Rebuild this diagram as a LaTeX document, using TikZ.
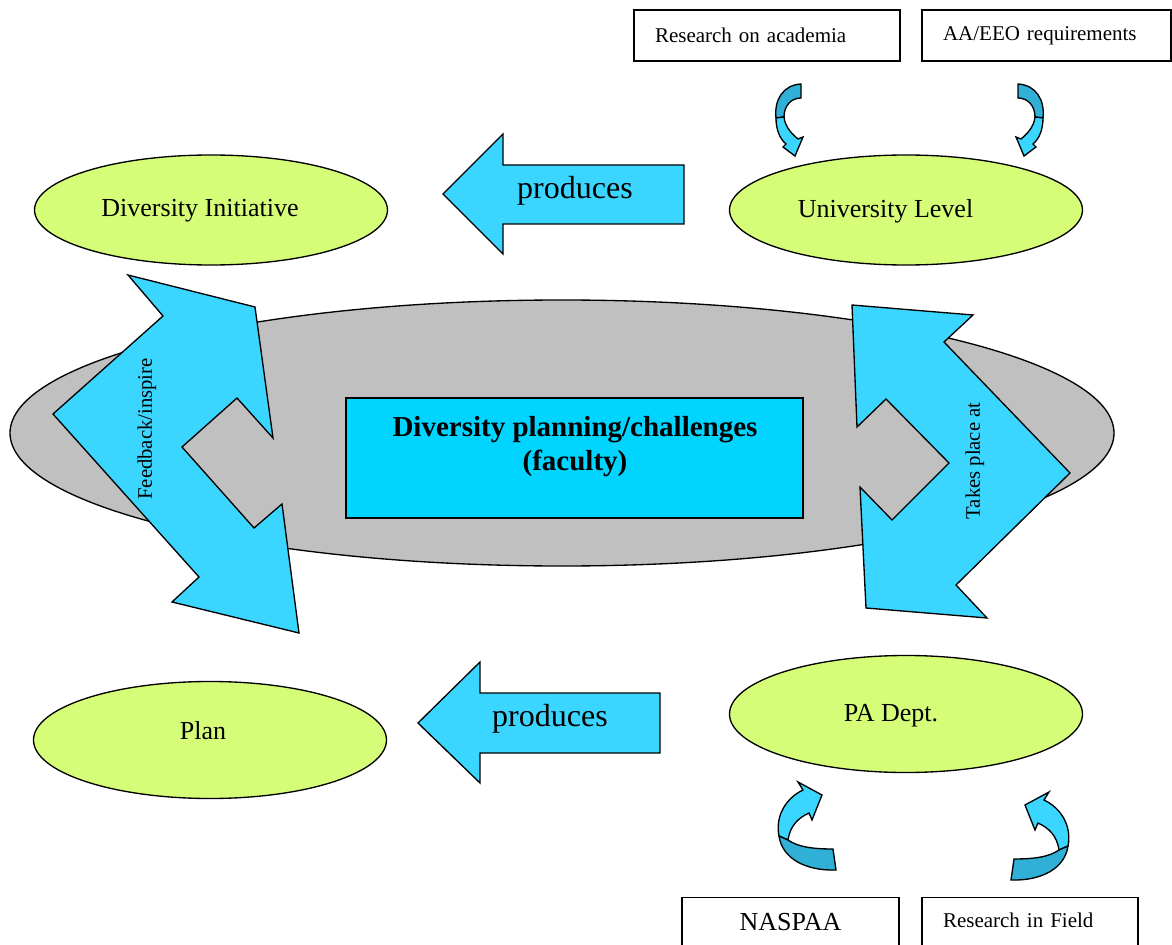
\documentclass[tikz,border=0pt]{standalone}
\usepackage{fontspec}
\setmainfont{Liberation Serif}
\usetikzlibrary{shapes.geometric}
\usetikzlibrary{positioning}

\definecolor{leafgreen}{RGB}{214,253,120}
\definecolor{blockblue}{RGB}{58,214,255}
\definecolor{coreblue}{RGB}{0,212,255}
\definecolor{curldark}{RGB}{48,176,214}
\definecolor{ovalgray}{RGB}{191,192,191}

\tikzset{
  level/.style={ellipse, draw, line width=1pt, fill=leafgreen, inner sep=0pt, minimum width=264.75pt},
  leveltext/.style={inner sep=0pt, font=\fontsize{19.5}{23}\selectfont},
  blockarrow/.style={draw, line width=1pt, fill=blockblue, line join=miter},
  arrowtext/.style={inner sep=0pt, font=\fontsize{24}{28}\selectfont},
  sidetext/.style={inner sep=0pt, rotate=90, font=\fontsize{15.5}{18}\selectfont},
  srcbox/.style={draw, line width=1pt, fill=white, inner ysep=0pt, align=left, font=\fontsize{15.75}{18}\selectfont},
  curl top/.pic={
    \draw[line width=1pt, fill=curldark] (12,-36) -- (12,-22) .. controls (2,-22) and (-5,-14) .. (-5,-3) -- (-13,-2) .. controls (-15,-20) and (-6,-35) .. (12,-36) -- cycle;
    \draw[line width=1pt, fill=blockblue] (-13,-2) .. controls (-13,10) and (-9,19) .. (-3,24) -- (-6,27) -- (6,36) -- (14,17) -- (9,19) .. controls (3,14) and (-4,7) .. (-5,-3) -- cycle;
  },
  curl bottom/.pic={
    \draw[line width=1pt, fill=blockblue] (-27,8) .. controls (-31,-12) and (-20,-30) .. (-3,-38) -- (-8,-46) -- (16,-33) -- (6,-8) -- (3,-15) .. controls (-8,-10) and (-16,-2) .. (-18,12) -- cycle;
    \draw[line width=1pt, fill=curldark] (-27,8) .. controls (-24,30) and (-1,43) .. (30,42) -- (27,21) .. controls (7,21) and (-8,19) .. (-18,12) -- cycle;
  }
}

\begin{document}
\begin{tikzpicture}[x=0.75pt,y=0.75pt,yscale=-1,xscale=1]
  \useasboundingbox (0,0) rectangle (1172,945);
  \clip (0,0) rectangle (1172,945);

  % big grey field and the core box
  \node[ellipse, draw, line width=1pt, fill=ovalgray, inner sep=0pt, minimum width=828pt, minimum height=199.5pt] (field) at (562,433) {};
  \node[draw, line width=1pt, fill=coreblue, inner sep=0pt, minimum width=342.75pt, minimum height=90pt] (core) at (574.5,458) {};
  \node[inner sep=0pt, align=center, font=\fontsize{21.75}{25.5}\selectfont\bfseries] (coretext) at (575,447) {Diversity planning/challenges\\(faculty)};

  % the two bent arrows
  \draw[blockarrow] (128,275) -- (163,316) -- (53,414) -- (199,577) -- (172,602) -- (299,633) -- (282,504) -- (254,528) -- (182,447) -- (237,398) -- (273,438) -- (255,307) -- cycle;
  \node[sidetext] (feedback) at (147,429) {Feedback/inspire};
  \draw[blockarrow] (852,305) -- (973,315) -- (944,342) -- (1070,473) -- (956,585) -- (987,618) -- (866,608) -- (860,487) -- (892,520) -- (949,463) -- (886,399) -- (857,427) -- cycle;
  \node[sidetext] (takes) at (975,461) {Takes place at};

  % levels
  \node[level, minimum height=82.5pt] (init) at (211,210) {};
  \node[leveltext] (inittext) at (200,211) {Diversity Initiative};
  \node[level, minimum height=82.5pt] (univ) at (906,210) {};
  \node[leveltext] (univtext) at (885.5,211) {University Level};
  \node[level, minimum height=87.75pt] (plan) at (210,740) {};
  \node[leveltext] (plantext) at (203,731) {Plan};
  \node[level, minimum height=87.75pt] (padept) at (906,714) {};
  \node[leveltext] (padepttext) at (891,716) {PA Dept.};

  % produces arrows
  \draw[blockarrow] (443,194) -- (503,134) -- (503,165) -- (684,165) -- (684,224) -- (503,224) -- (503,254) -- cycle;
  \node[arrowtext] (produces1) at (575,191) {produces};
  \draw[blockarrow] (418,723) -- (480,662) -- (480,693) -- (660,693) -- (660,753) -- (480,753) -- (480,783) -- cycle;
  \node[arrowtext] (produces2) at (550,719) {produces};

  % sources
  \node[srcbox, inner xsep=15.75pt, text width=168pt, minimum height=38.25pt] (academia) at (767,35.5) {Research on academia};
  \node[srcbox, inner xsep=15.75pt, text width=155.25pt, minimum height=38.25pt] (aaeeo) at (1046.5,35.5) {AA/EEO requirements};
  \node[srcbox, anchor=north, inner xsep=0pt, text width=162.75pt, align=center, text height=24.75pt, text depth=22.5pt, font=\fontsize{19.5}{23}\selectfont] (naspaa) at (790.5,897) {NASPAA};
  \node[srcbox, anchor=north, inner xsep=15.75pt, text width=130.5pt, text height=22.5pt, text depth=22.5pt] (field research) at (1030,897) {Research in Field};

  % curls
  \pic[transform shape] at (789,120) {curl top};
  \pic[transform shape, xscale=-1] at (1030,120) {curl top};
  \pic[transform shape] at (806,828) {curl bottom};
  \pic[transform shape, xscale=-1] at (1041,838) {curl bottom};
\end{tikzpicture}
\end{document}
